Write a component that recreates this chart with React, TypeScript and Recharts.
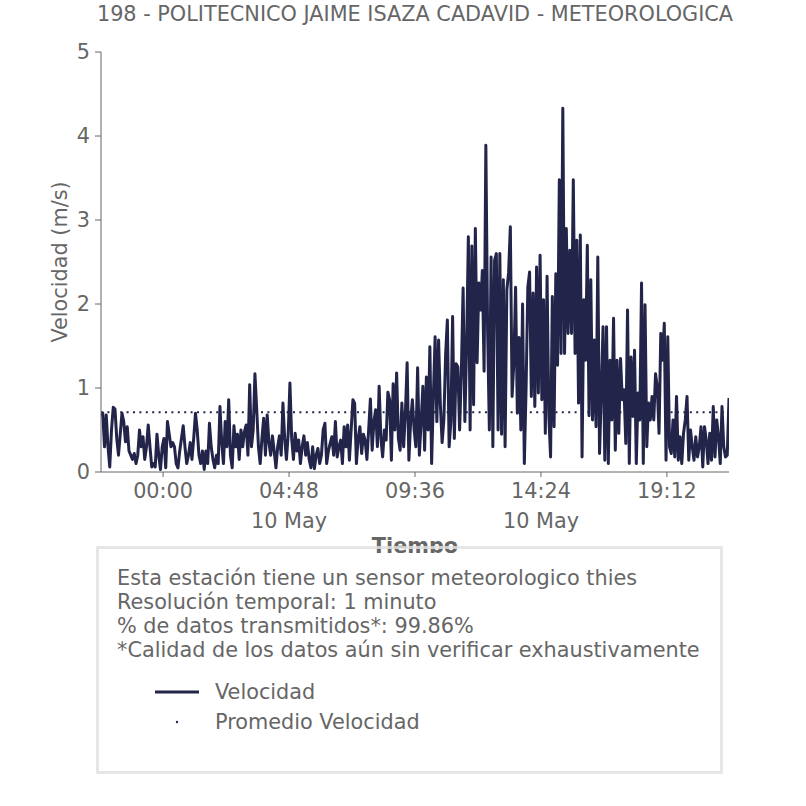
import { LineChart, Line, XAxis, YAxis, ReferenceLine } from "recharts";

// wind speed (m/s), one reading every 4 minutes starting 9 May 21:38
const SPEED_NIGHT = [
  0.66, 0.7, 0.3, 0.68, 0.3, 0.06, 0.5, 0.77, 0.75, 0.4, 0.2, 0.45, 0.7, 0.6, 0.36, 0.54, 0.25, 0.2, 0.15, 0.22,
  0.1, 0.2, 0.5, 0.3, 0.42, 0.15, 0.3, 0.56, 0.3, 0.06, 0.1, 0.06, 0.45, 0.2, 0.03, 0.3, 0.4, 0.05, 0.6, 0.45,
  0.3, 0.35, 0.3, 0.1, 0.05, 0.25, 0.4, 0.55, 0.3, 0.1, 0.2, 0.35, 0.15, 0.4, 0.7, 0.5, 0.2, 0.1, 0.25, 0.03,
];
const SPEED_EARLY = [
  0.25, 0.1, 0.58, 0.3, 0.15, 0.05, 0.2, 0.1, 0.78, 0.35, 0.1, 0.6, 0.3, 0.86, 0.2, 0.05, 0.55, 0.3, 0.45, 0.15,
  0.5, 0.3, 0.48, 0.56, 0.2, 1.04, 0.3, 0.5, 1.17, 0.75, 0.3, 0.1, 0.4, 0.64, 0.2, 0.68, 0.35, 0.2, 0.43, 0.25,
  0.05, 0.3, 0.43, 0.2, 0.82, 0.4, 0.15, 0.45, 1.06, 0.4, 0.15, 0.46, 0.25, 0.38, 0.1, 0.3, 0.43, 0.2, 0.35, 0.15,
  0.05,
];
const SPEED_MORNING = [
  0.3, 0.04, 0.2, 0.28, 0.1, 0.2, 0.5, 0.58, 0.1, 0.25, 0.34, 0.42, 0.2, 0.6, 0.18, 0.3, 0.38, 0.1, 0.54, 0.3,
  0.56, 0.14, 0.5, 0.86, 0.82, 0.1, 0.4, 0.54, 0.22, 0.45, 0.38, 0.15, 0.5, 0.87, 0.26, 0.6, 0.74, 0.3, 1.02, 0.4,
  0.18, 0.5, 0.38, 0.95, 0.86, 0.14, 1.05, 0.5, 1.18, 0.4, 0.26, 0.82, 0.3, 0.7, 1.3, 0.14, 0.6, 0.86, 0.5, 0.3,
  1.24,
];
const SPEED_MIDDAY = [
  0.2, 0.6, 1.02, 0.26, 1.13, 0.5, 1.49, 0.1, 0.9, 1.61, 0.6, 1.57, 0.8, 0.35, 0.62, 1.4, 1.81, 0.3, 0.6, 1.85,
  0.4, 1.29, 1.25, 0.5, 1.2, 2.19, 0.6, 1.5, 2.8, 0.5, 2.69, 0.8, 2.9, 1.3, 2.25, 1.93, 2.4, 1.2, 3.89, 1.7,
  0.5, 2.56, 0.3, 2.52, 2.6, 0.5, 2.6, 0.45, 2.29, 0.3, 2.17, 2.37, 2.92, 0.9, 1.3, 2.2, 0.7, 1.6, 0.5, 2.0,
  0.1,
];
const SPEED_AFTERNOON = [
  1.0, 2.2, 2.38, 0.9, 2.13, 0.78, 2.44, 0.94, 2.58, 0.86, 2.05, 0.46, 2.33, 0.67, 0.18, 2.09, 0.54, 2.36, 1.27, 3.48,
  1.41, 4.33, 1.41, 2.9, 1.65, 2.64, 1.65, 3.48, 1.41, 2.76, 0.82, 2.82, 0.18, 2.05, 1.33, 2.7, 0.67, 2.29, 0.62, 1.57,
  0.54, 2.56, 0.22, 0.94, 1.73, 0.14, 1.73, 0.1, 1.33, 0.62, 1.83, 0.26, 1.33, 0.46, 1.35, 0.86, 0.98, 0.34, 1.93,
];
const SPEED_EVENING = [
  0.1, 1.37, 0.66, 1.45, 0.1, 0.94, 0.62, 2.25, 0.1, 1.99, 0.3, 0.82, 0.62, 0.9, 0.62, 1.17, 1.01, 0.46, 1.65, 1.33,
  1.77, 0.14, 1.61, 0.3, 0.22, 0.62, 0.18, 0.9, 0.14, 0.42, 0.1, 0.46, 0.62, 0.9, 0.14, 0.5, 0.3, 0.14, 0.42, 0.18,
  0.3, 0.54, 0.06, 0.54, 0.38, 0.1, 0.46, 0.14, 0.78, 0.18, 0.62, 0.42, 0.1, 0.78, 0.3, 0.18, 0.2, 0.88,
];

const AVG_SPEED = 0.71;
const START_MIN = -142; // minutes from 10 May 00:00
const STEP_MIN = 4;

const TICK_MIN = [0, 288, 576, 864, 1152];
const TICK_TIME = ["00:00", "04:48", "09:36", "14:24", "19:12"];
const TICK_DATE = ["", "10 May", "", "10 May", ""];

const INFO_LINES = [
  "Esta estación tiene un sensor meteorologico thies",
  "Resolución temporal: 1 minuto",
  "% de datos transmitidos*: 99.86%",
  "*Calidad de los datos aún sin verificar exhaustivamente",
];

const NAVY = "#222449";
const GREY = "#666666";
const FONT = "'DejaVu Sans', sans-serif";
const FS = 20.8;

const speeds = [
  ...SPEED_NIGHT,
  ...SPEED_EARLY,
  ...SPEED_MORNING,
  ...SPEED_MIDDAY,
  ...SPEED_AFTERNOON,
  ...SPEED_EVENING,
];
const data = speeds.map((v, i) => ({ t: START_MIN + i * STEP_MIN, v }));

function TimeTick(props: any) {
  const { x, y, payload } = props;
  const idx = TICK_MIN.indexOf(payload.value);
  return (
    <g>
      <text x={x} y={y + 19} textAnchor="middle" fontSize={FS} fill={GREY} fontFamily={FONT}>
        {TICK_TIME[idx]}
      </text>
      {TICK_DATE[idx] && (
        <text x={x} y={y + 49} textAnchor="middle" fontSize={FS} fill={GREY} fontFamily={FONT}>
          {TICK_DATE[idx]}
        </text>
      )}
    </g>
  );
}

export default function App() {
  return (
    <div
      style={{
        position: "absolute",
        left: 0,
        top: 0,
        width: 806,
        height: 806,
        background: "#fff",
        fontFamily: FONT,
      }}
    >
      <LineChart
        width={806}
        height={560}
        data={data}
        margin={{ top: 52, right: 77, left: 0, bottom: 0 }}
      >
        <XAxis
          type="number"
          dataKey="t"
          domain={[START_MIN, 1294]}
          ticks={TICK_MIN}
          tick={<TimeTick />}
          tickSize={5}
          height={88}
          stroke={GREY}
          interval={0}
          allowDataOverflow
        />
        <YAxis
          type="number"
          domain={[0, 5]}
          ticks={[0, 1, 2, 3, 4, 5]}
          width={101}
          tickSize={6}
          tickMargin={5}
          stroke={GREY}
          tick={{ fontSize: FS, fill: GREY, fontFamily: FONT }}
        />
        <Line
          type="linear"
          dataKey="v"
          stroke={NAVY}
          strokeWidth={3}
          strokeLinejoin="round"
          dot={false}
          isAnimationActive={false}
        />
        <ReferenceLine
          y={AVG_SPEED}
          stroke={NAVY}
          strokeWidth={2}
          strokeDasharray="2 4.4"
        />
      </LineChart>

      <svg
        width={806}
        height={806}
        style={{ position: "absolute", left: 0, top: 0, pointerEvents: "none" }}
      >
        <text x={415} y={21} textAnchor="middle" fontSize={FS} fill={GREY} fontFamily={FONT}>
          198 - POLITECNICO JAIME ISAZA CADAVID - METEOROLOGICA
        </text>
        <text
          x={67}
          y={262}
          transform="rotate(-90 67 262)"
          textAnchor="middle"
          fontSize={FS}
          fill={GREY}
          fontFamily={FONT}
        >
          Velocidad (m/s)
        </text>
      </svg>

      {/* info box, it sits over the x-axis title */}
      <div
        style={{
          position: "absolute",
          left: 96,
          top: 546,
          width: 621,
          height: 222,
          border: "3px solid #e6e6e6",
          background: "#fff",
        }}
      >
        <div
          style={{
            position: "absolute",
            left: 18,
            top: 18,
            fontSize: FS,
            lineHeight: "23.9px",
            color: GREY,
            whiteSpace: "nowrap",
          }}
        >
          {INFO_LINES.map((l) => (
            <div key={l}>{l}</div>
          ))}
        </div>
        <svg width={621} height={222} style={{ position: "absolute", left: 0, top: 0 }}>
          <line x1={56} x2={100} y1={143} y2={143} stroke={NAVY} strokeWidth={3} />
          <circle cx={78} cy={173} r={1.2} fill={NAVY} />
          <text x={116} y={150} fontSize={FS} fill={GREY} fontFamily={FONT}>
            Velocidad
          </text>
          <text x={116} y={180} fontSize={FS} fill={GREY} fontFamily={FONT}>
            Promedio Velocidad
          </text>
        </svg>
      </div>

      <svg
        width={806}
        height={806}
        style={{ position: "absolute", left: 0, top: 0, pointerEvents: "none" }}
      >
        <defs>
          <clipPath id="axisTitleClip">
            <rect x={0} y={530} width={806} height={23} />
          </clipPath>
        </defs>
        <text
          x={415}
          y={553}
          textAnchor="middle"
          fontSize={FS}
          fontWeight="bold"
          fill={GREY}
          fontFamily={FONT}
          clipPath="url(#axisTitleClip)"
        >
          Tiempo
        </text>
        <line x1={96} x2={722} y1={547.5} y2={547.5} stroke="#e6e6e6" strokeWidth={3} opacity={0.8} />
      </svg>
    </div>
  );
}
